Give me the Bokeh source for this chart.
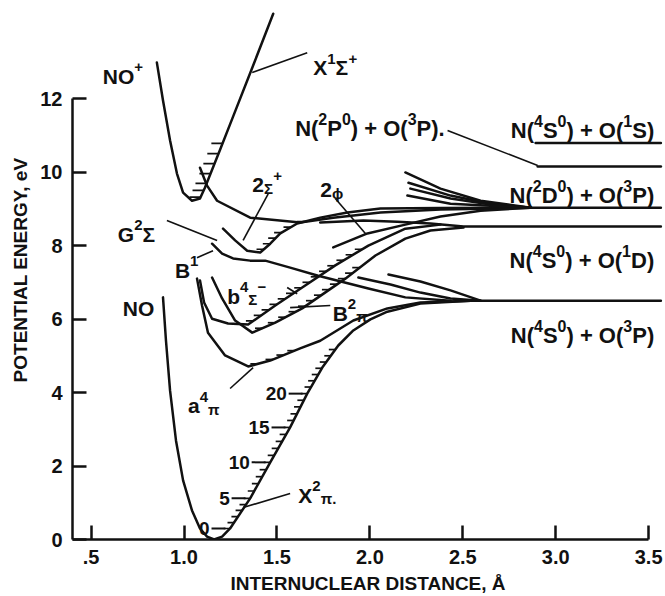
import numpy as np
from bokeh.plotting import figure
from bokeh.models import Label, FixedTicker, Range1d, PrintfTickFormatter
from bokeh.embed import file_html
from bokeh.resources import INLINE

# ---------------- data: internuclear distance r (Angstrom), energy E (eV) ----------------
# NO ground state X2Pi
X2P_R = [0.887, 0.903, 0.925, 0.957, 0.995, 1.043, 1.086, 1.124, 1.162, 1.205, 1.248, 1.356,
         1.464, 1.571, 1.663, 1.744, 1.830, 1.911, 2.003, 2.094, 2.272, 2.542, 3.566]
X2P_E = [6.59, 5.41, 4.05, 2.69, 1.61, 0.79, 0.30, 0.08, 0.00, 0.08, 0.30, 1.12,
         2.10, 3.05, 3.97, 4.68, 5.28, 5.69, 5.99, 6.20, 6.42, 6.50, 6.50]
# NO+ X1Sigma+
NOP_R = [0.854, 0.887, 0.925, 0.962, 0.995, 1.043, 1.086, 1.113, 1.194, 1.264, 1.372, 1.480]
NOP_E = [12.98, 11.95, 10.86, 9.96, 9.44, 9.22, 9.28, 9.58, 10.61, 11.51, 12.90, 14.31]
# G2Sigma (repulsive wall to N(2D)+O(3P))
G2S_R = [1.086, 1.124, 1.178, 1.356, 1.625, 1.803, 2.057, 2.380, 2.865, 3.566]
G2S_E = [10.12, 9.63, 9.22, 8.76, 8.63, 8.76, 8.90, 8.98, 9.03, 9.03]
# 2Sigma+
S2P_R = [1.210, 1.275, 1.340, 1.410, 1.464, 1.518, 1.609, 1.733, 1.879, 2.057, 2.380, 2.865]
S2P_E = [8.46, 8.14, 7.86, 7.81, 8.05, 8.33, 8.60, 8.76, 8.90, 9.01, 9.02, 9.03]
# B'
B1_R = [1.151, 1.205, 1.264, 1.356, 1.437, 1.571, 1.722, 1.992, 2.191, 2.434]
B1_E = [8.05, 7.78, 7.65, 7.59, 7.59, 7.40, 7.18, 6.83, 6.59, 6.50]
# repulsive curves to N(4S)+O(3P)
R2_R = [1.938, 2.111, 2.272, 2.434, 2.596]
R2_E = [7.13, 6.94, 6.72, 6.56, 6.50]
R3_R = [2.100, 2.272, 2.434, 2.596]
R3_E = [7.21, 7.02, 6.78, 6.50]
# fan of repulsive curves to N(2D)+O(3P)
F1_R = [2.191, 2.380, 2.596, 2.865]
F1_E = [9.99, 9.55, 9.22, 9.03]
F2_R = [2.208, 2.434, 2.650, 2.865]
F2_E = [9.71, 9.36, 9.14, 9.03]
F3_R = [2.218, 2.434, 2.650, 2.865]
F3_E = [9.55, 9.28, 9.12, 9.03]
F4_R = [2.202, 2.434, 2.865]
F4_E = [9.36, 9.14, 9.03]
# 2Phi
PHI_R = [1.803, 1.987, 2.191, 2.380, 2.596, 2.865]
PHI_E = [7.95, 8.33, 8.57, 8.79, 8.95, 9.03]
# curve to N(4S)+O(1D)
D1_R = [1.733, 1.965, 2.148, 2.326, 2.504, 3.566]
D1_E = [8.63, 8.68, 8.65, 8.60, 8.52, 8.52]
# b4Sigma-
B4S_R = [1.086, 1.108, 1.151, 1.237, 1.345, 1.491, 1.636, 1.814, 1.992, 2.191, 2.380]
B4S_E = [7.05, 6.45, 6.01, 5.88, 5.85, 6.37, 6.86, 7.46, 8.00, 8.46, 8.57]
# B2Pi
B2P_R = [1.151, 1.205, 1.275, 1.367, 1.491, 1.636, 1.868, 2.030, 2.191, 2.326, 2.504]
B2P_E = [7.13, 6.56, 5.96, 5.63, 5.90, 6.29, 7.10, 7.73, 8.19, 8.41, 8.49]
# a4Pi
A4P_R = [1.070, 1.097, 1.129, 1.221, 1.345, 1.464, 1.625, 1.733, 1.911, 2.094, 2.272, 2.542]
A4P_E = [7.10, 6.37, 5.63, 5.01, 4.71, 4.87, 5.20, 5.41, 5.96, 6.29, 6.45, 6.50]
# upper dissociation limits
P2_R = [2.903, 3.566]
P2_E = [10.15, 10.15]
S1_R = [2.892, 3.566]
S1_E = [10.79, 10.79]

# vibrational levels (eV)
X2P_V = [0.30, 0.46, 0.62, 0.79, 0.95, 1.12, 1.32, 1.52, 1.71, 1.90, 2.10, 2.29, 2.48, 2.67,
         2.86, 3.05, 3.24, 3.42, 3.61, 3.79, 3.97, 4.15, 4.32, 4.49, 4.66, 4.83, 5.00, 5.17]
X2P_V_LABELED = [0, 5, 10, 15, 20]
NOP_V = [9.32, 9.50, 9.69, 9.96, 10.23, 10.50, 10.78]
A4P_V = [4.78, 4.90, 5.02, 5.14]
B4S_V = [5.95, 6.10, 6.25, 6.40, 6.55, 6.70, 6.85, 7.00, 7.15, 7.30, 7.45, 7.60, 7.75, 7.90]
B2P_V = [5.75, 5.90, 6.05, 6.20, 6.35, 6.50, 6.65, 6.80, 6.95, 7.10, 7.25, 7.40]
S2P_V = [7.90, 8.05, 8.20, 8.35, 8.50, 8.65]

X_TICKS = [0.5, 1.0, 1.5, 2.0, 2.5, 3.0, 3.5]
Y_TICKS = [0, 2, 4, 6, 8, 10, 12]

FONT = "Liberation Sans"
INK = "#111111"

p = figure(width=665, height=596, x_range=Range1d(0.4, 3.58), y_range=Range1d(0, 14.67),
           output_backend="svg", toolbar_location=None,
           min_border_left=72, min_border_right=2, min_border_top=0, min_border_bottom=57)
p.outline_line_color = None
p.grid.grid_line_color = None
p.background_fill_color = "white"

for ax in (p.xaxis[0], p.yaxis[0]):
    ax.axis_line_width = 2.5
    ax.axis_line_color = INK
    ax.major_tick_line_width = 2.5
    ax.major_tick_line_color = INK
    ax.major_tick_in = 14
    ax.major_tick_out = 0
    ax.minor_tick_line_color = None
    ax.major_label_text_font = FONT
    ax.major_label_text_font_style = "bold"
    ax.major_label_text_color = INK
    ax.axis_label_text_font = FONT
    ax.axis_label_text_font_style = "bold"
    ax.axis_label_text_color = INK

p.xaxis.bounds = (0.4, 3.5)
p.yaxis.bounds = (0, 12)
p.xaxis.ticker = FixedTicker(ticks=X_TICKS)
p.yaxis.ticker = FixedTicker(ticks=Y_TICKS)
p.xaxis.formatter = PrintfTickFormatter(format="%.1f")
p.xaxis.major_label_overrides = {0.5: ".5"}
p.xaxis.major_label_text_font_size = "20px"
p.yaxis.major_label_text_font_size = "20px"
p.xaxis.major_label_standoff = 10
p.yaxis.major_label_standoff = 10
p.xaxis.axis_label = "INTERNUCLEAR DISTANCE, Å"
p.yaxis.axis_label = "POTENTIAL ENERGY, eV"
p.xaxis.axis_label_text_font_size = "19px"
p.yaxis.axis_label_text_font_size = "19px"
p.xaxis.axis_label_standoff = 6
p.yaxis.axis_label_standoff = 6

curves = [(X2P_R, X2P_E), (NOP_R, NOP_E), (G2S_R, G2S_E), (S2P_R, S2P_E), (B1_R, B1_E),
          (R2_R, R2_E), (R3_R, R3_E), (F1_R, F1_E), (F2_R, F2_E), (F3_R, F3_E), (F4_R, F4_E),
          (PHI_R, PHI_E), (D1_R, D1_E), (B4S_R, B4S_E), (B2P_R, B2P_E), (A4P_R, A4P_E),
          (P2_R, P2_E), (S1_R, S1_E)]
for r, e in curves:
    p.line(r, e, line_color=INK, line_width=2.5, line_join="round", line_cap="round")


def branch_r(R, E, levels):
    R = np.asarray(R, float)
    E = np.asarray(E, float)
    i0 = int(np.argmin(E))
    i1 = i0 + int(np.argmax(E[i0:]))
    return np.interp(levels, E[i0:i1 + 1], R[i0:i1 + 1])


def hatch(R, E, levels, length, width=1.7):
    rc = branch_r(R, E, levels)
    p.segment(x0=rc - length, y0=levels, x1=rc, y1=levels, line_color=INK, line_width=width)
    return rc


rc_x = hatch(X2P_R, X2P_E, X2P_V, 0.035)
hatch(NOP_R, NOP_E, NOP_V, 0.06)
hatch(A4P_R, A4P_E, A4P_V, 0.04)
hatch(B4S_R, B4S_E, B4S_V, 0.04)
hatch(B2P_R, B2P_E, B2P_V, 0.04)
hatch(S2P_R, S2P_E, S2P_V, 0.04)

# labelled vibrational levels of X2Pi
lab_e = [X2P_V[v] for v in X2P_V_LABELED]
lab_r = rc_x[X2P_V_LABELED]
p.segment(x0=lab_r - 0.10, y0=lab_e, x1=lab_r - 0.025, y1=lab_e, line_color=INK, line_width=2)
for v, r, e in zip(X2P_V_LABELED, lab_r, lab_e):
    p.add_layout(Label(x=r - 0.11, y=e, text=str(v), text_align="right", text_baseline="middle",
                       text_font=FONT, text_font_style="bold", text_font_size="19px",
                       text_color=INK))

# leader lines (r0, E0, r1, E1)
LEADERS = [(1.367, 12.71, 1.663, 13.25),   # X1Sigma+
           (2.418, 11.13, 2.903, 10.18),   # N(2P)+O(3P)
           (1.453, 9.41, 1.318, 8.14),     # 2Sigma+
           (1.814, 9.28, 1.976, 8.33),     # 2Phi
           (0.908, 8.68, 1.178, 8.14),     # G2Sigma
           (1.070, 7.67, 1.156, 7.86),     # B'
           (1.555, 6.86, 1.609, 6.69),     # b4Sigma-
           (1.571, 6.31, 1.787, 6.37),     # B2Pi
           (1.248, 4.11, 1.372, 4.68),     # a4Pi
           (1.571, 1.25, 1.318, 0.87)]     # X2Pi
p.segment(x0=[l[0] for l in LEADERS], y0=[l[1] for l in LEADERS],
          x1=[l[2] for l in LEADERS], y1=[l[3] for l in LEADERS],
          line_color=INK, line_width=1.6)

# Arial/Liberation Sans Bold advance widths (per 1000 em)
ADV = {'N': 722, 'O': 778, '(': 333, ')': 333, '+': 584, ' ': 278, 'S': 667, 'D': 722,
       'P': 667, 'X': 667, 'B': 722, 'G': 778, 'b': 611, 'a': 556, '.': 278, '−': 584,
       'Σ': 620, 'π': 610, 'ϕ': 720}


def advance(s, size):
    return sum(ADV.get(ch, 556) for ch in s) / 1000.0 * size


def parse(markup):
    """'^x' -> superscript char, '_x' -> lowered char, else normal."""
    parts, i = [], 0
    while i < len(markup):
        ch = markup[i]
        if ch in "^_" and i + 1 < len(markup):
            kind, c = ("sup" if ch == "^" else "sub"), markup[i + 1]
            i += 2
        else:
            kind, c = "n", ch
            i += 1
        if parts and parts[-1][1] == kind:
            parts[-1] = (parts[-1][0] + c, kind)
        else:
            parts.append((c, kind))
    return parts


def rich_label(markup, x, y, align, base):
    small = round(base * 0.72)
    parts = parse(markup)
    sizes = [base if k == "n" else small for _, k in parts]
    widths = [advance(t, s) for (t, _), s in zip(parts, sizes)]
    off = 0.0 if align == "left" else -sum(widths)
    base_dy = -0.36 * base
    for (t, k), s, w in zip(parts, sizes, widths):
        dy = base_dy + {"n": 0.0, "sup": 0.42 * base, "sub": -0.16 * base}[k]
        p.add_layout(Label(x=x, y=y, x_offset=off, y_offset=dy, text=t, text_align="left",
                           text_baseline="alphabetic", text_font=FONT,
                           text_font_style="bold", text_font_size=f"{s}px", text_color=INK))
        off += w


LABELS = [("NO^+", 0.563, 12.82, "left", 21),
          ("X^1Σ^+", 1.695, 13.05, "left", 21),
          ("N(^2P^0) + O(^3P).", 1.598, 11.40, "left", 22),
          ("N(^4S^0) + O(^1S)", 3.53, 11.35, "right", 22),
          ("N(^2D^0) + O(^3P)", 3.53, 9.58, "right", 22),
          ("N(^4S^0) + O(^1D)", 3.53, 7.81, "right", 22),
          ("N(^4S^0) + O(^3P)", 3.53, 5.77, "right", 22),
          ("2_Σ^+", 1.367, 9.85, "left", 21),
          ("2_ϕ", 1.733, 9.72, "left", 21),
          ("G^2Σ", 0.644, 8.52, "left", 21),
          ("B^1", 0.951, 7.54, "left", 21),
          ("NO", 0.671, 6.50, "left", 21),
          ("b^4_Σ^−", 1.232, 6.83, "left", 21),
          ("B^2_π", 1.800, 6.37, "left", 21),
          ("a^4_π", 1.022, 3.84, "left", 21),
          ("X^2_π_.", 1.615, 1.41, "left", 21)]
for markup, r, e, align, size in LABELS:
    rich_label(markup, r, e, align, size)

open("out.html", "w").write(file_html(p, INLINE))
